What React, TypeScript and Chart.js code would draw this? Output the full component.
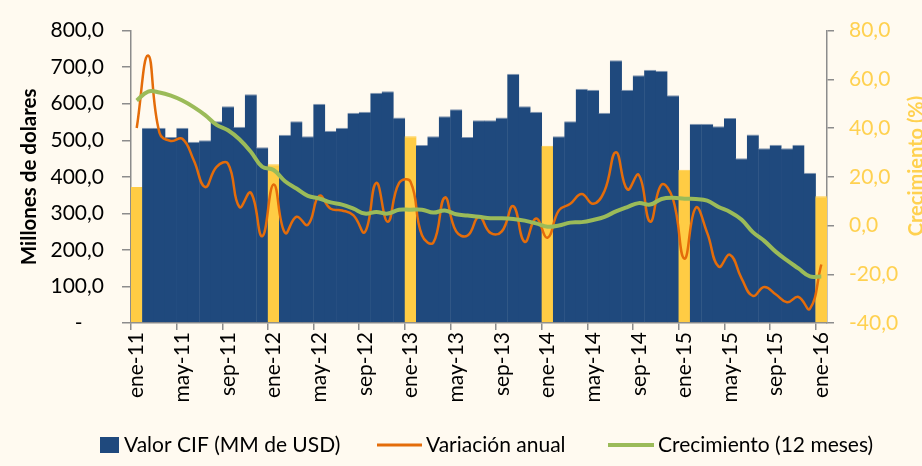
import React, { useEffect, useRef } from 'react';
import { Chart, registerables } from 'chart.js';

Chart.register(...registerables);

const monthNames = ['ene', 'feb', 'mar', 'abr', 'may', 'jun', 'jul', 'ago', 'sep', 'oct', 'nov', 'dic'];
const years = ['11', '12', '13', '14', '15', '16'];
const categories: string[] = [];
years.forEach((y, yi) => {
  monthNames.forEach((m, mi) => {
    if (yi < 5 || mi === 0) categories.push(`${m}-${y}`);
  });
});

// Valor CIF (MM de USD)
const valorCIF = [
  372, 534, 534, 509, 534, 496, 500, 552, 593, 537, 626, 481,
  434, 515, 552, 511, 600, 526, 534, 575, 578, 630, 634, 562,
  511, 487, 511, 566, 585, 509, 555, 555, 562, 682, 593, 578,
  485, 511, 552, 641, 638, 575, 719, 638, 678, 693, 690, 623,
  419, 545, 545, 538, 561, 451, 516, 478, 488, 478, 488, 411,
  347,
];

// Variación anual (%)
const variacionAnual = [
  40.0, 69.8, 38.0, 34.7, 35.6, 26.8, 15.8, 24.1, 25.4, 7.6, 13.5, -4.4,
  16.8, -3.0, 3.6, 0.3, 12.2, 6.9, 6.2, 4.2, -2.7, 17.5, 1.6, 17.5,
  18.0, -4.0, -7.0, 11.5, -2.4, -4.1, 3.6, -3.0, -2.4, 8.0, -6.7, 2.9,
  -5.0, 6.2, 8.9, 12.9, 8.9, 14.2, 30.1, 14.8, 20.8, 1.6, 16.8, 10.9,
  -13.6, 7.3, -3.0, -16.9, -12.0, -21.6, -28.9, -25.2, -28.2, -31.5, -29.3, -34.2,
  -16.0,
];

// Crecimiento (12 meses) (%)
const crecimiento12 = [
  51.3, 55.0, 54.6, 53.3, 51.3, 48.6, 45.3, 41.3, 39.1, 35.4, 30.3, 24.1,
  22.8, 18.2, 15.2, 12.2, 11.1, 9.5, 8.6, 6.9, 4.9, 5.6, 4.9, 6.5,
  6.5, 6.5, 5.3, 6.2, 4.6, 4.1, 3.6, 3.0, 3.0, 2.7, 2.0, 0.9,
  -0.5, 0.0, 1.2, 1.4, 2.3, 3.6, 5.8, 7.6, 9.2, 8.6, 10.9, 11.4,
  11.0, 10.9, 10.2, 7.6, 5.6, 2.5, -2.7, -6.3, -10.7, -14.3, -17.6, -20.9,
  -20.9,
];

const leftTicks = [0, 100, 200, 300, 400, 500, 600, 700, 800];
const rightTicks = [-40, -20, 0, 20, 40, 60, 80];

const BLUE = '#1F497D';
const YELLOW = '#FFCC44';
const ORANGE = '#E46C0A';
const GREEN = '#9BBB59';
const AXIS_YELLOW = '#FFD150';
const BG = '#FFFAF0';
const FONT = 'Lato, "Open Sans", sans-serif';

const fmt = (v: number) => v.toFixed(1).replace('.', ',');

const extrasPlugin = {
  id: 'extras',
  beforeDraw(chart: any) {
    const ctx = chart.ctx;
    ctx.save();
    ctx.fillStyle = BG;
    ctx.fillRect(0, 0, chart.width, chart.height);
    ctx.restore();
  },
  afterDraw(chart: any) {
    const ctx = chart.ctx;
    ctx.save();
    // Right axis title (reads bottom to top, clipped at the edge)
    ctx.translate(917, 166);
    ctx.rotate(-Math.PI / 2);
    ctx.font = `bold 20px ${FONT}`;
    ctx.fillStyle = AXIS_YELLOW;
    ctx.textAlign = 'center';
    ctx.textBaseline = 'middle';
    ctx.fillText('Crecimiento (%)', 0, 0);
    ctx.restore();

    // Legend
    ctx.save();
    ctx.font = `21px ${FONT}`;
    ctx.textBaseline = 'middle';
    ctx.textAlign = 'left';
    const ly = 445;
    ctx.fillStyle = BLUE;
    ctx.fillRect(100, ly - 8, 19, 16);
    ctx.fillStyle = '#000';
    ctx.fillText('Valor CIF (MM de USD)', 124, ly);
    ctx.strokeStyle = ORANGE;
    ctx.lineWidth = 3;
    ctx.beginPath();
    ctx.moveTo(377, ly);
    ctx.lineTo(422, ly);
    ctx.stroke();
    ctx.fillText('Variación anual', 426, ly);
    ctx.strokeStyle = GREEN;
    ctx.lineWidth = 4;
    ctx.beginPath();
    ctx.moveTo(608, ly);
    ctx.lineTo(654, ly);
    ctx.stroke();
    ctx.fillText('Crecimiento (12 meses)', 658, ly);
    ctx.restore();
  },
};

export default function App() {
  const ref = useRef<HTMLCanvasElement | null>(null);
  useEffect(() => {
    if (!ref.current) return;
    const barColors = categories.map((c) => (c.startsWith('ene') ? YELLOW : BLUE));
    const barBorders = categories.map((c) => (c.startsWith('ene') ? YELLOW : '#8396B0'));
    const chart = new Chart(ref.current, {
      type: 'bar',
      data: {
        labels: categories,
        datasets: [
          {
            type: 'line',
            label: 'Crecimiento (12 meses)',
            data: crecimiento12,
            yAxisID: 'y1',
            borderColor: GREEN,
            backgroundColor: GREEN,
            borderWidth: 4,
            pointRadius: 0,
            tension: 0.4,
            order: 1,
          },
          {
            type: 'line',
            label: 'Variación anual',
            data: variacionAnual,
            yAxisID: 'y1',
            borderColor: ORANGE,
            backgroundColor: ORANGE,
            borderWidth: 2.5,
            pointRadius: 0,
            tension: 0.45,
            order: 2,
          },
          {
            type: 'bar',
            label: 'Valor CIF (MM de USD)',
            data: valorCIF,
            yAxisID: 'y',
            backgroundColor: barColors,
            borderColor: barBorders,
            borderWidth: { top: 1, left: 0, right: 0, bottom: 0 },
            borderSkipped: false,
            categoryPercentage: 1,
            barPercentage: 1.06,
            order: 3,
          },
        ],
      },
      options: {
        responsive: false,
        animation: false,
        devicePixelRatio: 1,
        layout: { padding: { left: 17, right: 0, top: 21, bottom: 0 } },
        plugins: {
          legend: { display: false },
          tooltip: { enabled: false },
        },
        scales: {
          x: {
            type: 'category',
            offset: true,
            grid: {
              offset: true,
              drawOnChartArea: false,
              drawTicks: true,
              tickLength: 7,
              color: (c: any) => (c.index % 4 === 0 ? '#8C8C8C' : 'rgba(0,0,0,0)'),
              lineWidth: 1.5,
            },
            border: { display: true, color: '#8C8C8C', width: 1.5 },
            ticks: {
              autoSkip: false,
              maxRotation: 90,
              minRotation: 90,
              padding: 2,
              color: '#000',
              font: { family: FONT, size: 21 },
              callback: (_v: any, i: number) => (i % 4 === 0 ? categories[i] : ''),
            },
            afterFit: (s: any) => {
              s.height = 143;
            },
          },
          y: {
            position: 'left',
            min: 0,
            max: 800,
            afterBuildTicks: (s: any) => {
              s.ticks = leftTicks.map((v) => ({ value: v }));
            },
            grid: { drawOnChartArea: false, tickLength: 9, color: '#8C8C8C', lineWidth: 1.5 },
            border: { display: true, color: '#8C8C8C', width: 1.5 },
            ticks: {
              padding: 18,
              color: '#000',
              font: { family: FONT, size: 21 },
              callback: (v: any) => (Number(v) === 0 ? '-    ' : fmt(Number(v))),
            },
            title: {
              display: true,
              text: 'Millones de dolares',
              color: '#000',
              font: { family: FONT, size: 20.5, weight: 'bold' },
              padding: 0,
            },
            afterFit: (s: any) => {
              s.width = 131 - 17;
            },
          },
          y1: {
            position: 'right',
            min: -40,
            max: 80,
            afterBuildTicks: (s: any) => {
              s.ticks = rightTicks.map((v) => ({ value: v }));
            },
            grid: { drawOnChartArea: false, tickLength: 7, color: '#8C8C8C', lineWidth: 1.5 },
            border: { display: true, color: '#8C8C8C', width: 1.5 },
            ticks: {
              padding: 15,
              color: AXIS_YELLOW,
              font: { family: FONT, size: 21 },
              callback: (v: any) => fmt(Number(v)),
            },
            afterFit: (s: any) => {
              s.width = 922 - 827;
            },
          },
        },
      },
      plugins: [extrasPlugin],
    } as any);
    return () => chart.destroy();
  }, []);
  return (
    <div style={{ position: 'fixed', left: 0, top: 0, width: 922, height: 466, overflow: 'hidden', background: BG }}>
      <canvas ref={ref} width={922} height={466} style={{ display: 'block', width: 922, height: 466 }} />
    </div>
  );
}
